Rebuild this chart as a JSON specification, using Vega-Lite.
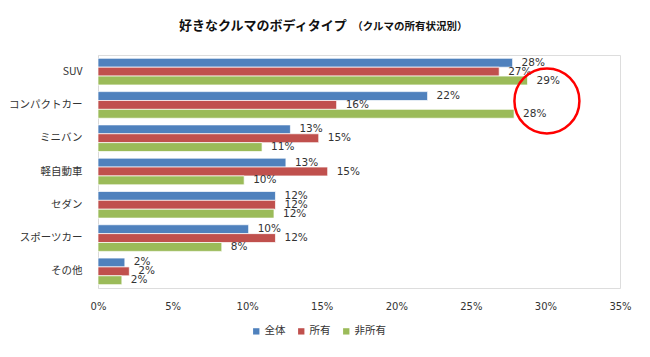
{
  "$schema": "https://vega.github.io/schema/vega-lite/v6.json",
  "width": 522,
  "height": 233,
  "autosize": {"type": "none"},
  "padding": {"left": 98, "top": 55, "right": 30, "bottom": 69},
  "background": "white",
  "title": {
    "text": "好きなクルマのボディタイプ",
    "subtitle": "\u200b　　　　　　　　　　　　　　　　　（クルマの所有状況別）",
    "anchor": "start",
    "frame": "group",
    "dx": 81,
    "offset": 22,
    "font": "Noto Sans CJK JP",
    "fontSize": 13,
    "fontWeight": "bold",
    "color": "#111111",
    "subtitleFont": "Noto Sans CJK JP",
    "subtitleFontSize": 10.5,
    "subtitleFontWeight": "bold",
    "subtitleColor": "#111111",
    "subtitlePadding": -11
  },
  "data": {
    "values": [
      {"type": "SUV", "group": "全体", "value": 0.278},
      {"type": "SUV", "group": "所有", "value": 0.269},
      {"type": "SUV", "group": "非所有", "value": 0.288},
      {"type": "コンパクトカー", "group": "全体", "value": 0.221},
      {"type": "コンパクトカー", "group": "所有", "value": 0.160},
      {"type": "コンパクトカー", "group": "非所有", "value": 0.279},
      {"type": "ミニバン", "group": "全体", "value": 0.129},
      {"type": "ミニバン", "group": "所有", "value": 0.148},
      {"type": "ミニバン", "group": "非所有", "value": 0.110},
      {"type": "軽自動車", "group": "全体", "value": 0.126},
      {"type": "軽自動車", "group": "所有", "value": 0.154},
      {"type": "軽自動車", "group": "非所有", "value": 0.098},
      {"type": "セダン", "group": "全体", "value": 0.119},
      {"type": "セダン", "group": "所有", "value": 0.119},
      {"type": "セダン", "group": "非所有", "value": 0.118},
      {"type": "スポーツカー", "group": "全体", "value": 0.101},
      {"type": "スポーツカー", "group": "所有", "value": 0.119},
      {"type": "スポーツカー", "group": "非所有", "value": 0.083},
      {"type": "その他", "group": "全体", "value": 0.018},
      {"type": "その他", "group": "所有", "value": 0.021},
      {"type": "その他", "group": "非所有", "value": 0.016}
    ]
  },
  "layer": [
    {
      "mark": {"type": "bar", "stroke": "white", "strokeOpacity": 0.7, "strokeWidth": 1},
      "encoding": {
        "y": {
          "field": "type", "type": "nominal",
          "sort": ["SUV", "コンパクトカー", "ミニバン", "軽自動車", "セダン", "スポーツカー", "その他"],
          "scale": {"paddingInner": 0.2, "paddingOuter": 0.1},
          "axis": {
            "title": null, "domain": true, "domainColor": "#d9d9d9", "domainWidth": 1,
            "ticks": false, "grid": false, "labelPadding": 16,
            "labelFont": "Noto Sans CJK JP", "labelFontSize": 10.5, "labelColor": "#333333"
          }
        },
        "x": {
          "field": "value", "type": "quantitative",
          "scale": {"domain": [0, 0.35], "nice": false},
          "axis": {
            "title": null, "domain": false, "ticks": false, "grid": false,
            "format": ".0%", "values": [0, 0.05, 0.1, 0.15, 0.2, 0.25, 0.3, 0.35],
            "labelFlush": false,
            "labelFont": "DejaVu Sans", "labelFontSize": 10, "labelColor": "#333333",
            "labelPadding": 13
          }
        },
        "yOffset": {"field": "group", "sort": ["全体", "所有", "非所有"]},
        "color": {
          "field": "group", "type": "nominal",
          "scale": {"domain": ["全体", "所有", "非所有"], "range": ["#4F81BD", "#C0504D", "#9BBB59"]},
          "legend": {
            "title": null, "orient": "none", "legendX": 153, "legendY": 271,
            "direction": "horizontal", "symbolType": "square", "symbolSize": 40,
            "symbolStrokeWidth": 0,
            "labelFont": "Noto Sans CJK JP", "labelFontSize": 10.5, "labelColor": "#333333",
            "labelOffset": 3, "columnPadding": 10
          }
        }
      }
    },
    {
      "mark": {"type": "text", "align": "left", "baseline": "middle", "dx": 9, "font": "DejaVu Sans", "fontSize": 10.5, "color": "#333333"},
      "encoding": {
        "y": {"field": "type", "type": "nominal", "sort": ["SUV", "コンパクトカー", "ミニバン", "軽自動車", "セダン", "スポーツカー", "その他"]},
        "x": {"field": "value", "type": "quantitative"},
        "yOffset": {"field": "group", "sort": ["全体", "所有", "非所有"]},
        "text": {"field": "value", "format": ".0%"}
      }
    },
    {
      "data": {"values": [{"type": "コンパクトカー", "value": 0.301}]},
      "mark": {"type": "point", "shape": "circle", "filled": false, "stroke": "#FF0000", "strokeWidth": 2.5, "size": 4225, "opacity": 1, "yOffset": -4},
      "encoding": {
        "y": {"field": "type", "type": "nominal", "sort": ["SUV", "コンパクトカー", "ミニバン", "軽自動車", "セダン", "スポーツカー", "その他"]},
        "x": {"field": "value", "type": "quantitative"}
      }
    }
  ]
}
